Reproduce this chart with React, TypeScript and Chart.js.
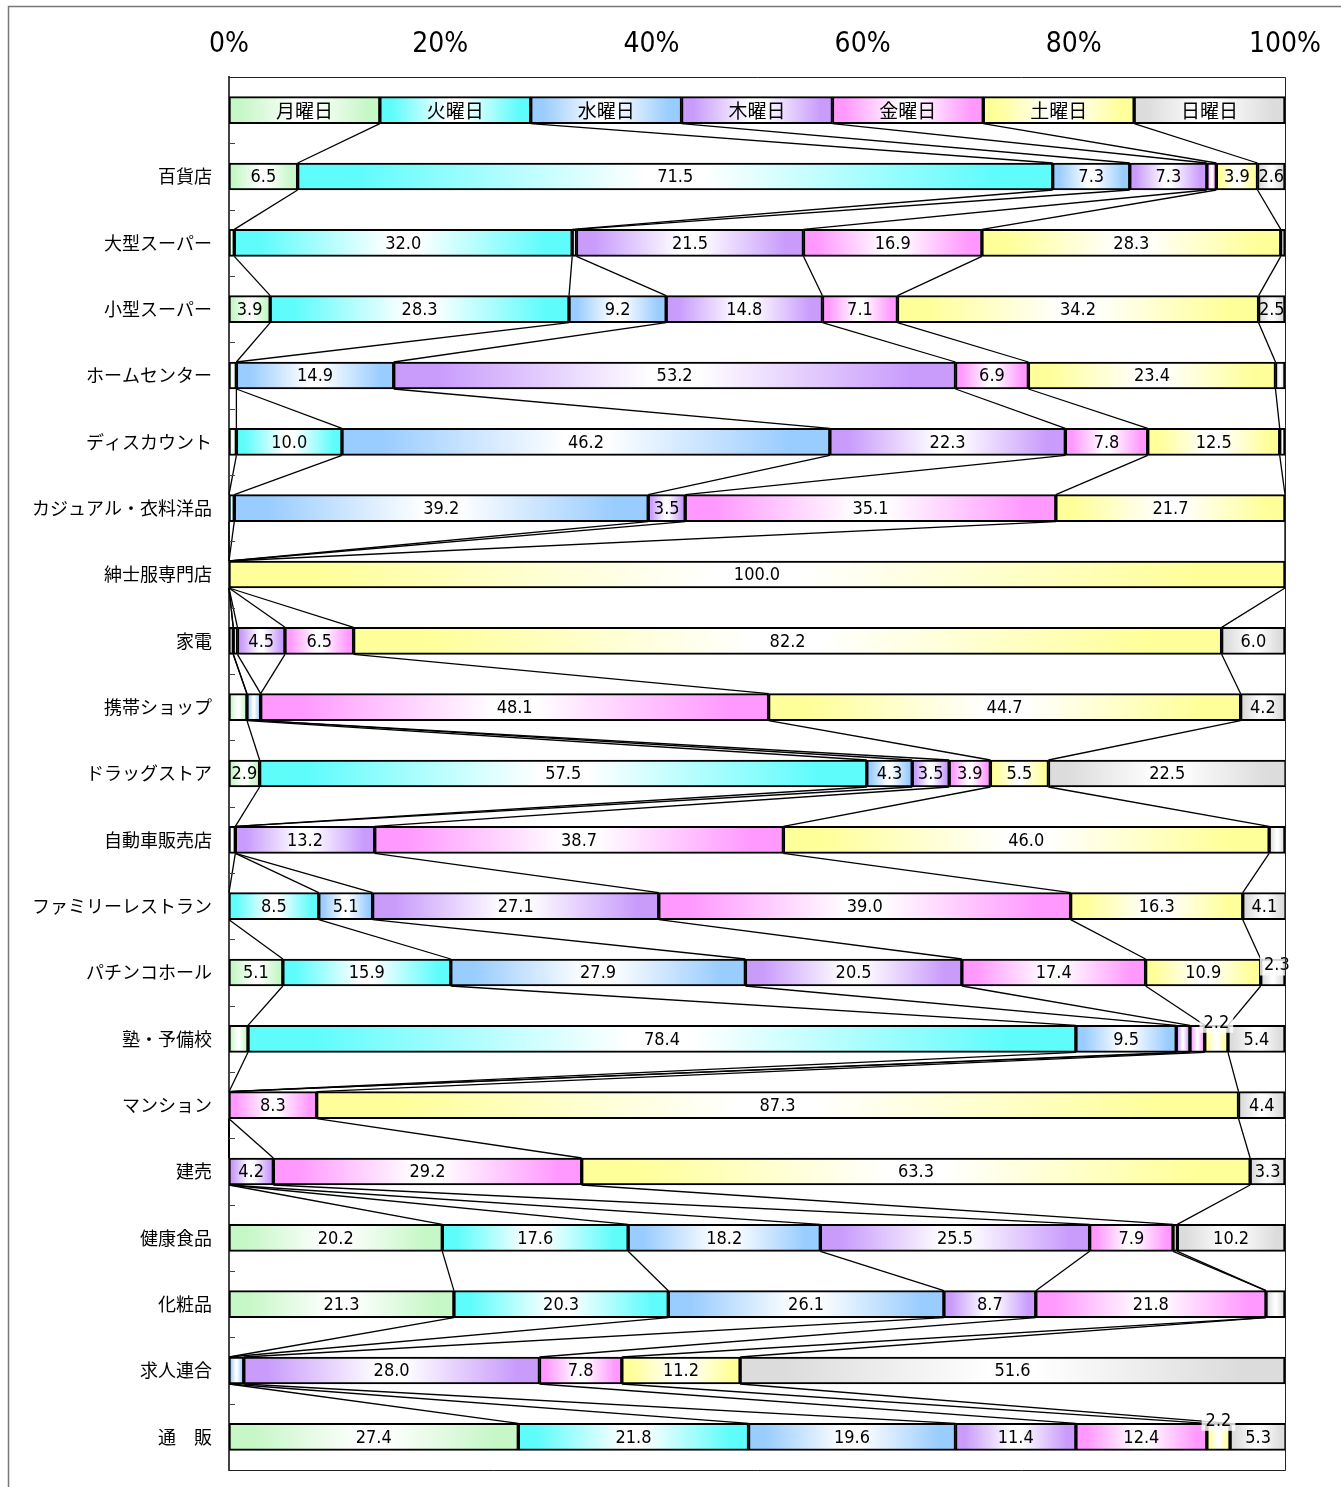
import React, { useEffect, useRef } from 'react';
import { Chart, registerables } from 'chart.js';

Chart.register(...registerables);

// ---------- data ----------
const categories = [
  '', '百貨店', '大型スーパー', '小型スーパー', 'ホームセンター', 'ディスカウント',
  'カジュアル・衣料洋品', '紳士服専門店', '家電', '携帯ショップ', 'ドラッグストア',
  '自動車販売店', 'ファミリーレストラン', 'パチンコホール', '塾・予備校', 'マンション',
  '建売', '健康食品', '化粧品', '求人連合', '通　販',
];
const dayNames = ['月曜日', '火曜日', '水曜日', '木曜日', '金曜日', '土曜日', '日曜日'];
const legendShare = 100 / 7;

const mon = [6.5, 0.5, 3.9, 0.7, 0.7, 0, 0, 0.4, 1.7, 2.9, 0.6, 0, 5.1, 1.8, 0, 0, 20.2, 21.3, 0, 27.4];
const tue = [71.5, 32.0, 28.3, 0, 10.0, 0.5, 0, 0, 0, 57.5, 0, 8.5, 15.9, 78.4, 0, 0, 17.6, 20.3, 0, 21.8];
const wed = [7.3, 0.4, 9.2, 14.9, 46.2, 39.2, 0, 0.4, 1.3, 4.3, 0, 5.1, 27.9, 9.5, 0, 0, 18.2, 26.1, 1.4, 19.6];
const thu = [7.3, 21.5, 14.8, 53.2, 22.3, 3.5, 0, 4.5, 0, 3.5, 13.2, 27.1, 20.5, 1.3, 0, 4.2, 25.5, 8.7, 28.0, 11.4];
const fri = [0.9, 16.9, 7.1, 6.9, 7.8, 35.1, 0, 6.5, 48.1, 3.9, 38.7, 39.0, 17.4, 1.4, 8.3, 29.2, 7.9, 21.8, 7.8, 12.4];
const sat = [3.9, 28.3, 34.2, 23.4, 12.5, 21.7, 100.0, 82.2, 44.7, 5.5, 46.0, 16.3, 10.9, 2.2, 87.3, 63.3, 0.4, 0, 11.2, 2.2];
const sun = [2.6, 0.4, 2.5, 0.9, 0.5, 0, 0, 6.0, 4.2, 22.5, 1.5, 4.1, 2.3, 5.4, 4.4, 3.3, 10.2, 1.8, 51.6, 5.3];

const xTicks = [0, 20, 40, 60, 80, 100];

// ---------- styles ----------
const dayColors = ['#c6f7c6', '#5ffcfc', '#99ccff', '#c99cfc', '#ff99ff', '#ffff99', '#dcdcdc'];
const CJK = '"Noto Sans CJK JP", "Noto Sans", sans-serif';
const NARROW = '"Liberation Sans Narrow", "DejaVu Sans Condensed", "Liberation Sans", sans-serif';
// label shift (dx, dy) for small values drawn outside their segment, keyed by row index
const raisedShift: Record<number, [number, number]> = { 13: [4, -8] };

const series = [mon, tue, wed, thu, fri, sat, sun];

function gradientFor(ctx: any, color: string) {
  if (ctx.type !== 'data') return color;
  const chart = ctx.chart;
  const xs = chart.scales && chart.scales.x;
  if (!xs) return color;
  const di = ctx.datasetIndex;
  const i = ctx.dataIndex;
  let start = 0;
  for (let d = 0; d < di; d++) start += chart.data.datasets[d].data[i] as number;
  const end = start + (chart.data.datasets[di].data[i] as number);
  const x0 = xs.getPixelForValue(start);
  const x1 = xs.getPixelForValue(end);
  if (!(x1 - x0 > 0.5) || !isFinite(x0) || !isFinite(x1)) return color;
  const g = chart.ctx.createLinearGradient(x0, 0, x1, 0);
  g.addColorStop(0, color);
  g.addColorStop(0.08, color);
  g.addColorStop(0.46, '#ffffff');
  g.addColorStop(0.54, '#ffffff');
  g.addColorStop(0.92, color);
  g.addColorStop(1, color);
  return g;
}

const overlayPlugin = {
  id: 'overlay',
  afterDatasetsDraw(chart: any) {
    const { ctx } = chart;
    const n = chart.data.labels.length;
    const metas = chart.data.datasets.map((_: any, d: number) => chart.getDatasetMeta(d));
    ctx.save();
    // connector lines between segment boundaries
    ctx.strokeStyle = '#000';
    ctx.lineWidth = 1.3;
    for (let i = 0; i < n - 1; i++) {
      for (let d = 0; d < 6; d++) {
        const a = metas[d].data[i];
        const b = metas[d].data[i + 1];
        ctx.beginPath();
        ctx.moveTo(a.x, a.y + a.height / 2);
        ctx.lineTo(b.x, b.y - b.height / 2);
        ctx.stroke();
      }
    }
    // labels
    ctx.textAlign = 'center';
    ctx.textBaseline = 'middle';
    ctx.fillStyle = '#000';
    for (let d = 0; d < metas.length; d++) {
      for (let i = 0; i < n; i++) {
        const el = metas[d].data[i];
        const cx = (el.x + el.base) / 2;
        const cy = el.y;
        if (i === 0) {
          ctx.font = `19px ${CJK}`;
          ctx.fillStyle = '#000';
          ctx.fillText(dayNames[d], cx, cy + 1);
          continue;
        }
        const v = chart.data.datasets[d].data[i] as number;
        if (v < 2) continue;
        const txt = v.toFixed(1);
        ctx.font = `18px ${NARROW}`;
        if (v < 2.4) {
          const [dx, dy] = raisedShift[i] || [0, -17];
          const w = ctx.measureText(txt).width;
          ctx.fillStyle = 'rgba(255,255,255,0.8)';
          ctx.fillRect(cx + dx - w / 2 - 4, cy + dy - 11, w + 8, 22);
          ctx.fillStyle = '#000';
          ctx.fillText(txt, cx + dx, cy + dy + 1);
        } else {
          ctx.fillStyle = '#000';
          ctx.fillText(txt, cx, cy + 1);
        }
      }
    }
    ctx.restore();
  },
  afterDraw(chart: any) {
    const { ctx, chartArea } = chart;
    const { left, right, top, bottom } = chartArea;
    const ys = chart.scales.y;
    ctx.save();
    // plot box (top, right, bottom)
    ctx.strokeStyle = '#222';
    ctx.lineWidth = 1;
    ctx.beginPath();
    ctx.moveTo(left, top + 0.5);
    ctx.lineTo(right + 0.5, top + 0.5);
    ctx.lineTo(right + 0.5, bottom + 0.5);
    ctx.lineTo(left, bottom + 0.5);
    ctx.stroke();
    // inward tick marks on the category axis
    ctx.strokeStyle = '#444';
    ctx.lineWidth = 1;
    const n = chart.data.labels.length;
    for (let i = 1; i < n; i++) {
      const y = Math.round((ys.getPixelForValue(i - 1) + ys.getPixelForValue(i)) / 2) + 0.5;
      ctx.beginPath();
      ctx.moveTo(left, y);
      ctx.lineTo(left + 6, y);
      ctx.stroke();
    }
    // outer frame
    ctx.strokeStyle = '#777';
    ctx.lineWidth = 1.5;
    ctx.beginPath();
    ctx.moveTo(8.5, chart.height);
    ctx.lineTo(8.5, 6.5);
    ctx.lineTo(chart.width, 6.5);
    ctx.stroke();
    ctx.restore();
  },
};

export default function App() {
  const ref = useRef<HTMLCanvasElement>(null);
  useEffect(() => {
    if (!ref.current) return;
    const datasets = series.map((arr, d) => ({
      label: dayNames[d],
      data: [legendShare, ...arr],
      backgroundColor: (c: any) => gradientFor(c, dayColors[d]),
      borderColor: '#000',
      borderWidth: 2,
      borderSkipped: false as any,
      barThickness: 27,
    }));
    const chart = new Chart(ref.current, {
      type: 'bar',
      data: { labels: categories, datasets },
      plugins: [overlayPlugin],
      options: {
        indexAxis: 'y',
        responsive: false,
        animation: false,
        events: [],
        layout: { padding: { left: 0, right: 56, top: 0, bottom: 17 } },
        plugins: { legend: { display: false }, tooltip: { enabled: false } },
        scales: {
          x: {
            type: 'linear',
            position: 'top',
            stacked: true,
            min: 0,
            max: 100,
            afterBuildTicks: (s: any) => { s.ticks = xTicks.map((v) => ({ value: v })); },
            ticks: {
              callback: (v: any) => `${v}%`,
              font: { family: NARROW, size: 28 },
              color: '#000',
              padding: 15,
              maxRotation: 0,
            },
            grid: { display: false, drawTicks: false },
            border: { display: false },
            afterFit: (s: any) => {
              s.height = 77;
              s.paddingLeft = 0;
              s.paddingRight = 0;
            },
          },
          y: {
            type: 'category',
            stacked: true,
            ticks: {
              font: { family: CJK, size: 18 },
              color: '#000',
              padding: 17,
              autoSkip: false,
            },
            grid: { display: false, drawTicks: false },
            border: { display: true, color: '#444', width: 2 },
            afterFit: (s: any) => {
              s.width = 229;
              s.paddingTop = 0;
              s.paddingBottom = 0;
            },
          },
        },
      },
    });
    return () => chart.destroy();
  }, []);
  return (
    <div style={{ position: 'absolute', left: 0, top: 0, width: 1341, height: 1487, background: '#fff' }}>
      <canvas ref={ref} width={1341} height={1487} style={{ display: 'block', width: 1341, height: 1487 }} />
    </div>
  );
}
